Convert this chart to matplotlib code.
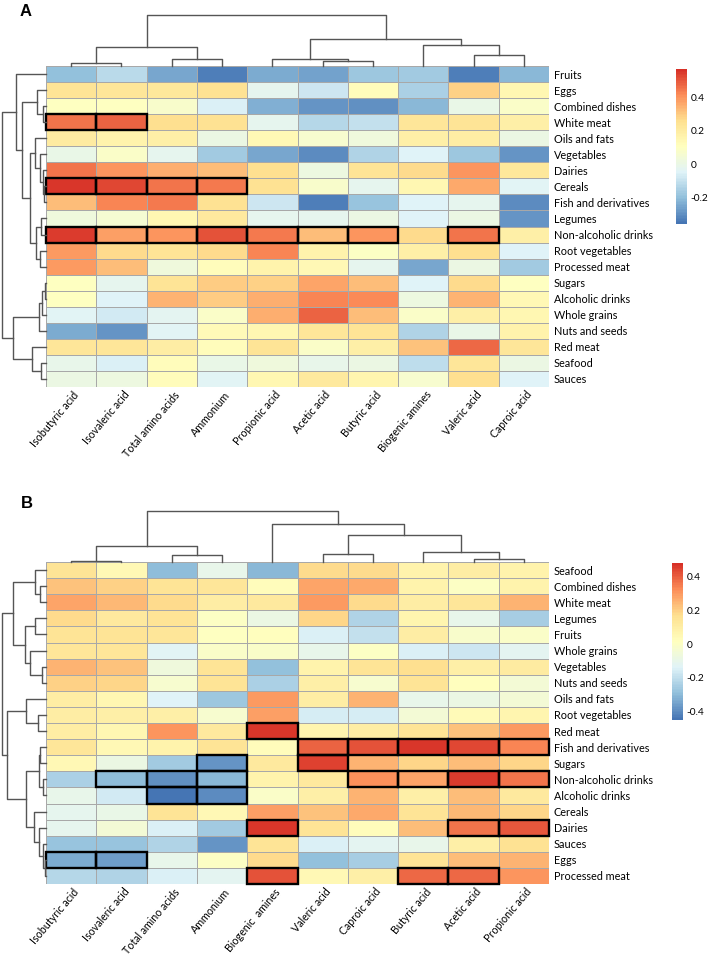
import numpy as np
import matplotlib
matplotlib.use("Agg")
import matplotlib.pyplot as plt
from matplotlib.colors import LinearSegmentedColormap, Normalize
from matplotlib.patches import Rectangle
from matplotlib.transforms import ScaledTranslation

plt.rcParams['font.family'] = ['Lato', 'DejaVu Sans']

W, H = 709, 957

# ---------------- panel A ----------------
rows_a = ["Fruits", "Eggs", "Combined dishes", "White meat", "Oils and fats",
          "Vegetables", "Dairies", "Cereals", "Fish and derivatives", "Legumes",
          "Non-alcoholic drinks", "Root vegetables", "Processed meat", "Sugars",
          "Alcoholic drinks", "Whole grains", "Nuts and seeds", "Red meat",
          "Seafood", "Sauces"]
cols_a = ["Isobutyric acid", "Isovaleric acid", "Total amino acids", "Ammonium",
          "Propionic acid", "Acetic acid", "Butyric acid", "Biogenic amines",
          "Valeric acid", "Caproic acid"]
vals_a = [
    [-0.20, -0.12, -0.25, -0.34, -0.24, -0.26, -0.18, -0.17, -0.34, -0.22],
    [0.24, 0.23, 0.22, 0.25, -0.02, -0.09, 0.12, -0.15, 0.29, 0.15],
    [0.10, 0.10, 0.07, -0.06, -0.23, -0.29, -0.30, -0.22, 0.00, 0.08],
    [0.45, 0.48, 0.26, 0.25, -0.02, -0.13, -0.10, 0.23, 0.24, 0.18],
    [0.20, 0.17, 0.18, 0.01, 0.14, 0.06, 0.03, 0.18, 0.19, 0.01],
    [0.00, 0.08, -0.02, -0.17, -0.25, -0.31, -0.14, -0.05, -0.18, -0.29],
    [0.45, 0.40, 0.35, 0.32, 0.26, 0.02, 0.24, 0.27, 0.40, 0.22],
    [0.56, 0.53, 0.45, 0.44, 0.25, 0.07, -0.02, 0.15, 0.36, -0.04],
    [0.32, 0.43, 0.44, 0.25, -0.09, -0.34, -0.19, -0.05, -0.02, -0.31],
    [0.03, 0.05, 0.15, 0.21, -0.02, -0.02, 0.01, -0.05, 0.01, -0.29],
    [0.55, 0.38, 0.40, 0.51, 0.44, 0.32, 0.40, 0.27, 0.45, 0.18],
    [0.39, 0.27, 0.24, 0.27, 0.43, 0.17, 0.09, 0.18, 0.26, -0.05],
    [0.39, 0.32, 0.03, 0.12, 0.17, 0.14, -0.02, -0.25, 0.01, -0.17],
    [0.10, -0.02, 0.24, 0.30, 0.29, 0.37, 0.32, -0.05, 0.27, 0.10],
    [0.10, -0.05, 0.34, 0.30, 0.35, 0.43, 0.42, 0.02, 0.34, 0.14],
    [-0.04, -0.08, -0.03, 0.08, 0.35, 0.48, 0.32, 0.08, 0.18, 0.15],
    [-0.24, -0.29, -0.04, 0.13, 0.15, 0.23, 0.24, -0.14, 0.00, 0.17],
    [0.23, 0.23, 0.19, 0.12, 0.24, 0.08, 0.18, 0.31, 0.47, 0.23],
    [-0.01, -0.06, 0.12, 0.00, 0.03, -0.01, 0.01, -0.11, 0.23, 0.01],
    [0.01, 0.02, 0.12, -0.04, 0.15, 0.21, 0.16, 0.06, 0.26, -0.05],
]
boxed_a = [(3, 0), (3, 1), (7, 0), (7, 1), (7, 2), (7, 3),
           (10, 0), (10, 1), (10, 2), (10, 3), (10, 4), (10, 5), (10, 6), (10, 8)]
# merges: [child a, child b, height]; new node ids start after the leaves
link_cols_a = [[0, 1, 0.05], [5, 6, 0.10], [2, 3, 0.13], [4, 11, 0.14],
               [8, 9, 0.21], [10, 12, 0.38], [7, 14, 0.41], [13, 16, 0.52],
               [15, 17, 1.0]]
link_rows_a = [[13, 14, 0.03], [7, 8, 0.04], [2, 3, 0.06], [6, 21, 0.075],
               [15, 20, 0.08], [9, 10, 0.11], [18, 19, 0.12], [11, 12, 0.13],
               [5, 23, 0.135], [16, 24, 0.15], [1, 22, 0.21], [25, 27, 0.23],
               [4, 28, 0.25], [17, 26, 0.32], [32, 31, 0.36], [30, 34, 0.53],
               [0, 35, 0.68], [29, 33, 0.74], [36, 37, 1.0]]
range_a = (-0.36, 0.57)
ticks_a = [-0.2, 0, 0.2, 0.4]
ticklabels_a = ["-0.2", "0", "0.2", "0.4"]

# ---------------- panel B ----------------
rows_b = ["Seafood", "Combined dishes", "White meat", "Legumes", "Fruits",
          "Whole grains", "Vegetables", "Nuts and seeds", "Oils and fats",
          "Root vegetables", "Red meat", "Fish and derivatives", "Sugars",
          "Non-alcoholic drinks", "Alcoholic drinks", "Cereals", "Dairies",
          "Sauces", "Eggs", "Processed meat"]
cols_b = ["Isobutyric acid", "Isovaleric acid", "Total amino acids", "Ammonium",
          "Biogenic  amines", "Valeric acid", "Caproic acid", "Butyric acid",
          "Acetic acid", "Propionic acid"]
vals_b = [
    [0.15, 0.05, -0.30, -0.10, -0.31, 0.18, 0.18, 0.08, 0.10, 0.08],
    [0.22, 0.20, 0.15, 0.14, 0.03, 0.28, 0.27, 0.08, 0.00, 0.08],
    [0.28, 0.24, 0.18, 0.10, 0.12, 0.30, 0.18, 0.10, 0.14, 0.25],
    [0.18, 0.12, 0.15, 0.00, -0.08, 0.19, -0.23, 0.07, -0.10, -0.25],
    [0.15, 0.15, 0.14, 0.01, 0.02, -0.15, -0.19, 0.10, -0.02, -0.01],
    [0.14, 0.14, -0.13, -0.01, -0.01, -0.10, 0.00, -0.15, -0.18, -0.12],
    [0.25, 0.22, -0.06, 0.15, -0.29, 0.08, 0.15, 0.17, 0.09, 0.11],
    [0.20, 0.19, -0.03, 0.15, -0.24, 0.09, -0.03, 0.15, 0.02, -0.05],
    [0.10, 0.06, -0.14, -0.27, 0.30, 0.10, 0.25, -0.10, -0.08, -0.05],
    [0.10, 0.09, 0.09, -0.03, 0.29, -0.16, -0.16, -0.05, 0.04, 0.07],
    [0.10, 0.06, 0.31, 0.12, 0.47, 0.07, 0.10, 0.15, 0.22, 0.30],
    [0.14, 0.05, 0.08, 0.15, 0.03, 0.39, 0.42, 0.47, 0.44, 0.34],
    [0.05, -0.08, -0.26, -0.38, 0.12, 0.45, 0.25, 0.19, 0.23, 0.19],
    [-0.24, -0.30, -0.39, -0.31, 0.08, 0.12, 0.32, 0.28, 0.46, 0.36],
    [-0.10, -0.17, -0.45, -0.40, -0.01, 0.09, 0.25, 0.09, 0.23, 0.12],
    [-0.11, -0.09, 0.15, 0.05, 0.29, 0.22, 0.27, 0.15, 0.24, 0.19],
    [-0.11, -0.05, -0.15, -0.26, 0.47, 0.15, 0.03, 0.23, 0.36, 0.41],
    [-0.28, -0.28, -0.23, -0.38, 0.15, -0.15, -0.12, -0.10, 0.09, 0.16],
    [-0.33, -0.36, -0.10, 0.00, 0.18, -0.29, -0.25, 0.15, 0.23, 0.25],
    [-0.22, -0.23, -0.15, -0.12, 0.42, 0.05, 0.09, 0.38, 0.38, 0.31],
]
boxed_b = [(10, 4), (11, 5), (11, 6), (11, 7), (11, 8), (11, 9), (12, 3), (12, 5),
           (13, 1), (13, 2), (13, 3), (13, 6), (13, 7), (13, 8), (13, 9),
           (14, 2), (14, 3), (16, 4), (16, 8), (16, 9), (18, 0), (18, 1),
           (19, 4), (19, 7), (19, 8)]
link_cols_b = [[0, 1, 0.02], [8, 9, 0.065], [2, 3, 0.14], [5, 6, 0.16],
               [7, 11, 0.20], [10, 12, 0.32], [13, 14, 0.53], [4, 16, 0.74],
               [15, 17, 1.0]]
link_rows_b = [[18, 19, 0.02], [13, 14, 0.06], [17, 20, 0.065], [6, 7, 0.10],
               [11, 12, 0.135], [1, 2, 0.14], [16, 22, 0.15], [24, 21, 0.16],
               [9, 10, 0.17], [0, 25, 0.25], [3, 4, 0.24], [15, 26, 0.26],
               [5, 23, 0.35], [8, 28, 0.44], [27, 31, 0.46], [30, 32, 0.47],
               [29, 35, 0.75], [33, 34, 0.87], [36, 37, 1.0]]
range_b = (-0.45, 0.48)
ticks_b = [-0.4, -0.2, 0, 0.2, 0.4]
ticklabels_b = ["-0.4", "-0.2", "0", "0.2", "0.4"]

# pheatmap default palette: rev(brewer.pal(7, "RdYlBu"))
palette = ["#4575B4", "#91BFDB", "#E0F3F8", "#FFFFBF", "#FEE090", "#FC8D59", "#D73027"]
cmap = LinearSegmentedColormap.from_list("rdylbu_r", palette, N=100)

fig = plt.figure(figsize=(W / 100, H / 100), dpi=100)


def px_axes(x0, y0, x1, y1):
    return fig.add_axes([x0 / W, 1 - y1 / H, (x1 - x0) / W, (y1 - y0) / H])


def dendro_segments(linkage, n):
    pos = {i: i + 0.5 for i in range(n)}
    hgt = {i: 0.0 for i in range(n)}
    segs = []
    for k, (a, b, h) in enumerate(linkage):
        segs.append(([pos[a], pos[a], pos[b], pos[b]], [hgt[a], h, h, hgt[b]]))
        pos[n + k] = (pos[a] + pos[b]) / 2
        hgt[n + k] = h
    return segs


def panel(y0, y1, rows, cols, vals, boxed, link_rows, link_cols, vrange,
          cb_box, ticks, ticklabels, letter, letter_xy):
    nr, nc = len(rows), len(cols)

    ax = px_axes(46, y0, 549, y1)
    ax.pcolormesh(np.array(vals), cmap=cmap, vmin=vrange[0], vmax=vrange[1],
                  edgecolors="#a8a8a8", linewidth=0.7)
    for r, c in boxed:
        ax.add_patch(Rectangle((c, r), 1, 1, fill=False, ec="black", lw=1.7,
                               zorder=3, clip_on=False))
    ax.set_xlim(0, nc)
    ax.set_ylim(nr, 0)
    for s in ax.spines.values():
        s.set_visible(False)
    ax.yaxis.tick_right()
    ax.set_yticks(np.arange(nr) + 0.5)
    ax.set_yticklabels(rows, fontsize=7.8)
    ax.tick_params(axis="y", length=0, pad=3.5)
    ax.set_xticks(np.arange(nc) + 0.5)
    ax.set_xticklabels(cols, rotation=50, ha="right", va="center",
                       rotation_mode="anchor", fontsize=7.7)
    ax.tick_params(axis="x", length=0, pad=4.2)
    shift = ScaledTranslation(6 / 100, 0, fig.dpi_scale_trans)
    for lab in ax.get_xticklabels():
        lab.set_transform(lab.get_transform() + shift)

    # column dendrogram
    dc = px_axes(46, y0 - 51.3, 549, y0)
    for xs, ys in dendro_segments(link_cols, nc):
        dc.plot(xs, ys, color="#555555", lw=1.0, clip_on=False)
    dc.set_xlim(0, nc)
    dc.set_ylim(0, 1)
    dc.axis("off")

    # row dendrogram
    dr = px_axes(1.5, y0, 46, y1)
    for xs, ys in dendro_segments(link_rows, nr):
        dr.plot(ys, xs, color="#555555", lw=1.0, clip_on=False)
    dr.set_xlim(1, 0)
    dr.set_ylim(nr, 0)
    dr.axis("off")

    # colour key
    cax = px_axes(*cb_box)
    sm = plt.cm.ScalarMappable(norm=Normalize(*vrange), cmap=cmap)
    cb = fig.colorbar(sm, cax=cax)
    cb.outline.set_visible(False)
    cb.set_ticks(ticks, labels=ticklabels)
    cax.tick_params(length=0, labelsize=7.3, pad=2.5)

    fig.text(letter_xy[0] / W, 1 - letter_xy[1] / H, letter, fontsize=12,
             fontweight="bold", ha="left", va="center",
             family=["Liberation Sans", "DejaVu Sans"])


panel(66, 387, rows_a, cols_a, vals_a, boxed_a, link_rows_a, link_cols_a,
      range_a, (676, 69, 687, 224), ticks_a, ticklabels_a, "A", (20, 11))
panel(562, 884, rows_b, cols_b, vals_b, boxed_b, link_rows_b, link_cols_b,
      range_b, (672, 563, 683, 720), ticks_b, ticklabels_b, "B", (21, 503))

fig.savefig("out.png", dpi=100)
